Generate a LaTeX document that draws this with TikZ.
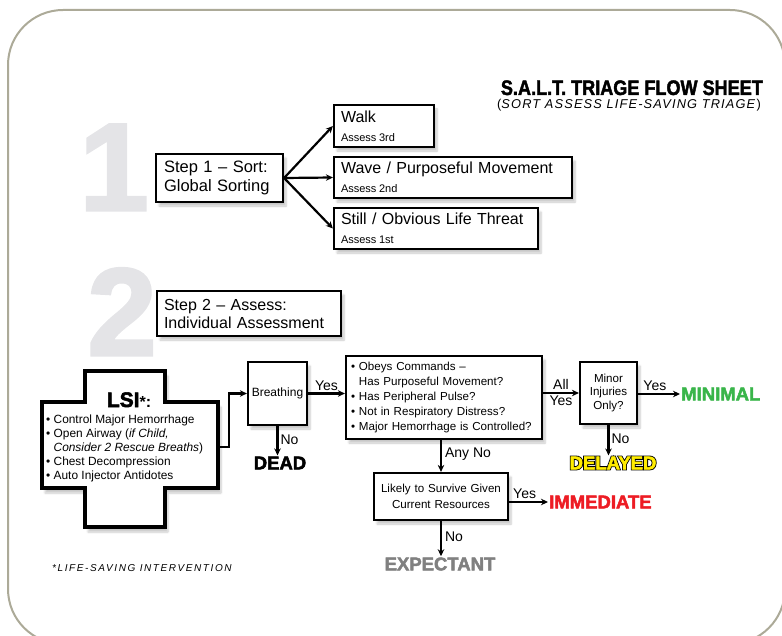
\documentclass[tikz,border=0pt]{standalone}
\usepackage{fontspec}
\setmainfont{Liberation Sans}
\newfontfamily\condfont{Liberation Sans Bold}[FakeStretch=0.86, FakeBold=2]
\newfontfamily\heavyfont{Liberation Sans Bold}[FakeBold=2.5]
\newfontfamily\outlinefont{Liberation Sans Bold}[FakeBold=12]
\newfontfamily\subfont{Liberation Sans}[LetterSpace=9]
\newfontfamily\footfont{Liberation Sans}[LetterSpace=16]
\usetikzlibrary{arrows.meta,shadows.blur,calc}
\definecolor{bordercol}{RGB}{172,170,152}
\definecolor{numcol}{RGB}{228,228,231}
\definecolor{mingreen}{RGB}{57,181,74}
\definecolor{immred}{RGB}{237,28,36}
\definecolor{expgray}{RGB}{128,128,128}
\definecolor{delyellow}{RGB}{255,236,0}
\newcommand\fs[2]{\fontsize{#1}{#2}\selectfont}
\tikzset{
  box/.style={draw=black, line width=2.2pt, fill=white, inner ysep=0pt,
    blur shadow={shadow xshift=3pt, shadow yshift=-4pt, shadow blur steps=6, shadow opacity=22}},
  arr/.style={line width=2.2pt, -{Stealth[length=7pt,width=6.5pt]}},
  lbl/.style={font=\fs{14}{16}, inner sep=1pt},
  outcome/.style={font=\heavyfont\fs{18.5}{20}, inner sep=1pt},
  bignum/.style={font=\heavyfont\fs{124}{124}, text=numcol, inner sep=0pt, anchor=base},
}
\begin{document}
\begin{tikzpicture}[x=1pt,y=-1pt]
\useasboundingbox (0,0) rectangle (782,636);
\begin{scope}
\clip (0,0) rectangle (782,636);
\draw[bordercol, line width=2pt, rounded corners=55pt] (8,10) rectangle (785,644);
\end{scope}

% title
\node[anchor=base east, font=\condfont\fs{21}{22}, inner sep=0pt] (title) at (763,95) {S.A.L.T. TRIAGE FLOW SHEET};
\node[anchor=base east, font=\subfont\fs{12.8}{14}, inner sep=0pt] (subtitle) at (761,109) {(\textit{SORT ASSESS LIFE-SAVING TRIAGE})};

% big numerals
\node[bignum] (one) at (114,210) {1};
\node[bignum] (two) at (122,355) {2};

% step 1
\node[box, minimum width=127, minimum height=48, text width=111, inner xsep=8, align=left, font=\fs{16.5}{19}] (s1) at (219.5,178) {Step 1 – Sort:\\Global Sorting};
\node[box, minimum width=100, minimum height=42, text width=86, inner xsep=7, align=left, font=\fs{16}{17}] (walk) at (384,126) {Walk\\[2pt]{\fs{11}{13}Assess\hspace{2.6pt}3rd}};
\node[box, minimum width=238, minimum height=41, text width=224, inner xsep=7, align=left, font=\fs{16}{17}] (wave) at (453,177.5) {Wave / Purposeful Movement\\[2pt]{\fs{11}{13}Assess\hspace{2.6pt}2nd}};
\node[box, minimum width=204, minimum height=41, text width=190, inner xsep=7, align=left, font=\fs{16}{17}] (still) at (436,228.5) {Still / Obvious Life Threat\\[2pt]{\fs{11}{13}Assess\hspace{2.6pt}1st}};

\draw[arr] (s1.east) -- (walk.west);
\draw[arr] (s1.east) -- (wave.west);
\draw[arr] (s1.east) -- (still.west);

% step 2
\node[box, minimum width=184, minimum height=45, text width=170, inner xsep=7, align=left, font=\fs{16}{18}] (s2) at (249,313.5) {Step 2 – Assess:\\Individual Assessment};

% LSI cross
\draw[line width=4pt, fill=white, blur shadow={shadow xshift=3pt, shadow yshift=-5pt, shadow blur steps=6, shadow opacity=22}]
 (85,371) -- (165,371) -- (165,402) -- (218,402) -- (218,488) -- (165,488) -- (165,527) -- (85,527) -- (85,488) -- (42,488) -- (42,402) -- (85,402) -- cycle;
\node[font=\heavyfont\fs{21}{22}, inner sep=0pt, anchor=base] (lsi) at (129,407) {LSI{\fontspec{Liberation Sans Bold}\fs{16}{18}*:}};
\node[anchor=north west, align=left, font=\fs{11.9}{14}, inner sep=0pt] (lsiitems) at (46,415) {• Control Major Hemorrhage\\• Open Airway (\textit{if Child,}\\\phantom{• }\textit{Consider 2 Rescue Breaths})\\• Chest Decompression\\• Auto Injector Antidotes};
\coordinate (lsiout) at (218,447);

% breathing
\node[box, minimum width=59, minimum height=63, inner xsep=0pt, font=\fs{12}{14}] (breath) at (277.5,393.5) {Breathing};
\draw[arr] (lsiout) -- ++(11,0) |- (breath.west);

% assessment
\node[box, minimum width=196, minimum height=83, text width=186, inner xsep=5, align=left, font=\fs{11.6}{14.8}] (assess) at (444,397.5) {• Obeys Commands –\\\phantom{• }Has Purposeful Movement?\\• Has Peripheral Pulse?\\• Not in Respiratory Distress?\\• Major Hemorrhage is Controlled?};
\draw[arr] (breath.east) -- node[lbl, above=1pt] (yes1) {Yes} (breath.east -| assess.west);

% DEAD
\node[outcome, text=black] (dead) at (280,463) {DEAD};
\draw[arr] (breath.south) -- node[lbl, right=1pt, pos=0.45] (no1) {No} (breath.south |- dead.north);

% minor injuries
\node[box, minimum width=57, minimum height=62, text width=57, inner xsep=0pt, align=center, font=\fs{11.6}{13.5}] (minor) at (608.5,393) {Minor\\Injuries\\Only?};
\draw[arr] (assess.east |- minor.west) -- node[lbl, above=1pt] (all) {All} node[lbl, below=1pt] (yes2) {Yes} (minor.west);

% MINIMAL
\node[outcome, text=mingreen, anchor=west] (minimal) at (680,394) {MINIMAL};
\draw[arr] (minor.east |- minimal.west) -- node[lbl, above=1pt, pos=0.4] (yes3) {Yes} (minimal.west);

% DELAYED with outline
\coordinate (delpos) at (613,463);
\node[outcome, font=\outlinefont\fs{18.5}{20}, text=black] (delline) at (delpos) {DELAYED};
\node[outcome, font=\heavyfont\fs{18.5}{20}, text=delyellow] (delayed) at (delpos) {DELAYED};
\draw[arr] (minor.south) -- node[lbl, right=1pt, pos=0.45] (no2) {No} (minor.south |- delayed.north);

% likely to survive
\node[box, minimum width=134, minimum height=47, text width=134, inner xsep=0pt, align=center, font=\fs{11.6}{16}] (likely) at (441,496.5) {Likely to Survive Given\\Current Resources};
\draw[arr] (assess.south -| likely.north) -- node[lbl, right=2pt, pos=0.45] (anyno) {Any No} (likely.north);

% IMMEDIATE
\node[outcome, text=immred, anchor=west] (immediate) at (548,502) {IMMEDIATE};
\draw[arr] (likely.east |- immediate.west) -- node[lbl, above=1pt, pos=0.4] (yes4) {Yes} (immediate.west);

% EXPECTANT
\node[outcome, text=expgray] (expectant) at (440,564) {EXPECTANT};
\draw[arr] (likely.south) -- node[lbl, right=2pt, pos=0.45] (no3) {No} (likely.south |- expectant.north);

% footnote
\node[anchor=base west, font=\footfont\fs{10}{12}\itshape, inner sep=0pt] (foot) at (52,571) {*LIFE-SAVING INTERVENTION};
\end{tikzpicture}
\end{document}
